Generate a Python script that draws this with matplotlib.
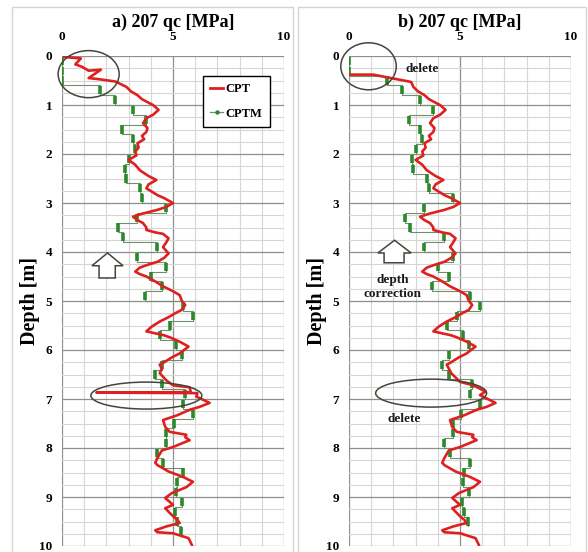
import matplotlib
matplotlib.use("Agg")
import matplotlib.pyplot as plt
from matplotlib.patches import Ellipse, Polygon, Rectangle
from matplotlib.lines import Line2D
import numpy as np

# ---------------- data ----------------
# CPT (continuous) panel a: qc [MPa], depth [m]
cpt_qc_a = [0.1, 0.85, 0.6, 0.9, 1.2, 1.75, 1.2, 1.6, 2.4, 2.9, 3.1, 3.4, 3.6, 3.8, 4.1, 4.35,
            4.1, 3.8, 3.65, 3.85, 3.8, 3.6, 3.7, 3.4, 3.45, 3.3, 3.35, 3.0, 3.3, 3.5, 3.9, 4.25,
            3.9, 3.8, 4.3, 4.6, 5.0, 4.7, 4.3, 3.6, 3.2, 3.4, 3.65, 3.8, 3.8, 4.2, 4.55, 4.8,
            4.7, 4.55, 4.8, 4.6, 4.3, 3.8, 3.5, 3.3, 3.5, 3.8, 4.2, 4.55, 5.0, 5.3, 5.4, 5.55,
            5.4, 5.1, 4.8, 4.4, 4.05, 3.8, 4.2, 4.6, 4.85, 5.3, 5.7, 5.3, 4.95, 4.6, 4.4, 4.5,
            4.4, 4.7, 5.0, 5.75, 5.8, 1.55, 6.1, 6.05, 6.65, 6.2, 5.75, 5.2, 4.55, 4.6, 4.65,
            4.85, 5.6, 5.55, 5.75, 5.0, 4.5, 4.3, 4.2, 4.3, 4.8, 5.45, 5.9, 5.6, 4.95, 4.65,
            5.0, 4.65, 4.95, 5.2, 5.3, 4.7, 4.2, 4.3, 5.0, 5.7, 5.85]
cpt_depth_a = [0.02, 0.05, 0.17, 0.22, 0.3, 0.28, 0.45, 0.47, 0.52, 0.63, 0.72, 0.8, 0.88, 0.93,
               1.0, 1.1, 1.2, 1.27, 1.37, 1.47, 1.55, 1.63, 1.7, 1.78, 1.87, 1.95, 2.03, 2.12,
               2.22, 2.33, 2.45, 2.53, 2.62, 2.7, 2.84, 2.9, 3.0, 3.08, 3.14, 3.22, 3.28, 3.35,
               3.41, 3.5, 3.55, 3.6, 3.63, 3.72, 3.8, 3.9, 4.03, 4.12, 4.2, 4.27, 4.32, 4.4,
               4.45, 4.5, 4.6, 4.7, 4.8, 4.88, 5.0, 5.08, 5.18, 5.25, 5.33, 5.42, 5.52, 5.62,
               5.66, 5.7, 5.74, 5.83, 5.93, 6.07, 6.15, 6.25, 6.3, 6.38, 6.47, 6.62, 6.72,
               6.76, 6.86, 6.87, 6.88, 6.95, 7.08, 7.16, 7.22, 7.33, 7.43, 7.5, 7.57, 7.67,
               7.73, 7.78, 7.84, 7.98, 8.05, 8.2, 8.3, 8.35, 8.48, 8.59, 8.69, 8.8, 8.92, 9.02,
               9.16, 9.23, 9.37, 9.47, 9.53, 9.6, 9.68, 9.72, 9.74, 9.84, 9.98]

# CPT panel b (top part deleted, spike near 7 m deleted)
cpt_qc_b = [0.0, 1.1, 1.65, 2.35, 2.8, 2.9, 3.1, 3.4, 3.6, 3.8, 4.1, 4.35,
            4.1, 3.8, 3.65, 3.85, 3.8, 3.6, 3.7, 3.4, 3.45, 3.3, 3.35, 3.0, 3.3, 3.5, 3.9, 4.25,
            3.9, 3.8, 4.3, 4.6, 5.0, 4.7, 4.3, 3.6, 3.2, 3.4, 3.65, 3.8, 3.8, 4.2, 4.55, 4.8,
            4.7, 4.55, 4.8, 4.6, 4.3, 3.8, 3.5, 3.3, 3.5, 3.8, 4.2, 4.55, 5.0, 5.3, 5.4, 5.55,
            5.4, 5.1, 4.8, 4.4, 4.05, 3.8, 4.2, 4.6, 4.85, 5.3, 5.7, 5.3, 4.95, 4.6, 4.4, 4.5,
            4.6, 5.0, 5.6, 6.15, 5.9, 6.6, 6.2, 5.75, 5.2, 4.55, 4.6, 4.65,
            4.85, 5.6, 5.55, 5.75, 5.0, 4.5, 4.3, 4.2, 4.3, 4.8, 5.45, 5.9, 5.6, 4.95, 4.65,
            5.0, 4.65, 4.95, 5.2, 5.3, 4.7, 4.2, 4.3, 5.0, 5.7, 5.85]
cpt_depth_b = [0.38, 0.38, 0.43, 0.49, 0.53, 0.63, 0.72, 0.8, 0.88, 0.93, 1.0, 1.1,
               1.2, 1.27, 1.37, 1.47, 1.55, 1.63, 1.7, 1.78, 1.87, 1.95, 2.03, 2.12,
               2.22, 2.33, 2.45, 2.53, 2.62, 2.7, 2.84, 2.9, 3.0, 3.08, 3.14, 3.22, 3.28, 3.35,
               3.41, 3.5, 3.55, 3.6, 3.63, 3.72, 3.8, 3.9, 4.03, 4.12, 4.2, 4.27, 4.32, 4.4,
               4.45, 4.5, 4.6, 4.7, 4.8, 4.88, 5.0, 5.08, 5.18, 5.25, 5.33, 5.42, 5.52, 5.62,
               5.66, 5.7, 5.74, 5.83, 5.93, 6.07, 6.15, 6.25, 6.3, 6.38, 6.47,
               6.65, 6.72, 6.85, 6.92, 7.08, 7.16, 7.22, 7.33, 7.43, 7.5, 7.57, 7.67,
               7.73, 7.78, 7.84, 7.98, 8.05, 8.2, 8.3, 8.35, 8.48, 8.59, 8.69, 8.8, 8.92, 9.02,
               9.16, 9.23, 9.37, 9.47, 9.53, 9.6, 9.68, 9.72, 9.74, 9.84, 9.98]

# CPTM (stepwise) readings: top depth of each 0.2 m interval and qc
cptm_top_a = [0.0, 0.2, 0.4, 0.6, 0.8, 1.0, 1.2, 1.4, 1.6, 1.8, 2.0, 2.2, 2.4, 2.6, 2.8,
              3.0, 3.2, 3.4, 3.6, 3.8, 4.0, 4.2, 4.4, 4.6, 4.8, 5.0, 5.2, 5.4, 5.6, 5.8,
              6.0, 6.2, 6.4, 6.6, 6.8, 7.0, 7.2, 7.4, 7.6, 7.8, 8.0, 8.2, 8.4, 8.6, 8.8,
              9.0, 9.2, 9.4, 9.6]
cptm_qc_a = [0.0, 0.0, 0.0, 1.7, 2.4, 3.2, 3.8, 2.7, 3.2, 3.3, 3.0, 2.85, 2.9, 3.5, 3.6,
             4.7, 3.4, 2.5, 2.75, 4.3, 3.4, 4.7, 4.0, 4.5, 3.75, 5.45, 5.9, 4.85, 4.4, 5.15,
             5.4, 4.5, 4.2, 4.5, 5.55, 5.45, 5.9, 5.05, 4.7, 4.7, 4.3, 4.55, 5.45, 5.2, 5.15,
             5.4, 5.1, 5.2, 5.35]
cptm_top_b = [0.0, 0.2, 0.4, 0.6, 0.8, 1.0, 1.2, 1.4, 1.6, 1.8, 2.0, 2.2, 2.4, 2.6, 2.8,
              3.0, 3.2, 3.4, 3.6, 3.8, 4.0, 4.2, 4.4, 4.6, 4.8, 5.0, 5.2, 5.4, 5.6, 5.8,
              6.0, 6.2, 6.4, 6.6, 6.8, 7.0, 7.2, 7.4, 7.6, 7.8, 8.0, 8.2, 8.4, 8.6, 8.8,
              9.0, 9.2, 9.4]
cptm_qc_b = [0.0, 0.0, 1.7, 2.4, 3.2, 3.8, 2.7, 3.2, 3.3, 3.0, 2.85, 2.9, 3.5, 3.6,
             4.7, 3.4, 2.5, 2.75, 4.3, 3.4, 4.7, 4.0, 4.5, 3.75, 5.45, 5.9, 4.85, 4.4, 5.15,
             5.4, 4.5, 4.2, 4.5, 5.55, 5.45, 5.9, 5.05, 4.7, 4.7, 4.3, 4.55, 5.45, 5.2, 5.15,
             5.4, 5.1, 5.2, 5.35]
cptm_step = 0.2

titles = ["a) 207 qc [MPa]", "b) 207 qc [MPa]"]
x_ticks = [0, 5, 10]
y_ticks = [0, 1, 2, 3, 4, 5, 6, 7, 8, 9, 10]
series_names = ["CPT", "CPTM"]

# ---------------- style ----------------
SERIF = ["Liberation Serif", "DejaVu Serif"]
RED = "#de2020"
GREEN = "#2a8a2a"
THIN = "#6f8f6f"
SHAPE = "#45453a"

fig = plt.figure(figsize=(5.88, 5.52), dpi=100)
W, H = 588.0, 552.0

# panel frames
for x0, x1 in [(12, 293), (298, 586)]:
    fig.patches.append(Rectangle((x0 / W, -0.01), (x1 - x0) / W, (H - 7) / H + 0.01,
                                 transform=fig.transFigure, fill=False,
                                 edgecolor="#d4d4d4", lw=1.0))

axes_left = [62, 349]
axes = []
for k in range(2):
    ax = fig.add_axes([axes_left[k] / W, (H - 546) / H, 222 / W, 490 / H])
    axes.append(ax)
    ax.set_xlim(0, 10)
    ax.set_ylim(10, 0)
    ax.xaxis.tick_top()
    ax.set_xticks(x_ticks)
    ax.set_xticks(np.arange(0, 11, 1), minor=True)
    ax.set_yticks(y_ticks)
    ax.set_yticks(np.arange(0, 10.01, 0.25), minor=True)
    ax.tick_params(which="both", length=0)
    ax.tick_params(axis="x", pad=9)
    ax.tick_params(axis="y", pad=7)
    for lab in ax.get_xticklabels() + ax.get_yticklabels():
        lab.set_fontfamily(SERIF)
        lab.set_fontweight("bold")
        lab.set_fontsize(9.5)
    ax.grid(which="minor", color="#d6d6d6", lw=0.8)
    ax.grid(which="major", color="#8e8e8e", lw=0.9)
    ax.set_axisbelow(True)
    for s in ax.spines.values():
        s.set_visible(False)
    ax.text(0.5, 1.0 + 25 / 490, titles[k], transform=ax.transAxes, ha="center", va="bottom",
            fontfamily=SERIF, fontweight="bold", fontsize=13)
    ax.set_ylabel("Depth [m]", fontfamily=SERIF, fontweight="bold", fontsize=14.5, labelpad=-1)


def draw_cptm(ax, tops, vals):
    xs, ys = [], []
    for t, v in zip(tops, vals):
        xs += [v, v]
        ys += [t, t + cptm_step]
    ax.plot(xs, ys, color=THIN, lw=0.8, zorder=3)
    ax.vlines(vals, [t + 0.015 for t in tops], [t + cptm_step - 0.015 for t in tops],
              color=GREEN, lw=2.6, zorder=4)


for ax, (cq, cd, mt, mq) in zip(axes, [(cpt_qc_a, cpt_depth_a, cptm_top_a, cptm_qc_a),
                                        (cpt_qc_b, cpt_depth_b, cptm_top_b, cptm_qc_b)]):
    draw_cptm(ax, mt, mq)
    ax.plot(cq, cd, color=RED, lw=1.9, zorder=5, solid_joinstyle="round")

axa, axb = axes

# legend (panel a)
handles = [Line2D([], [], color=RED, lw=2.0),
           Line2D([], [], color=THIN, lw=0.9, marker="o", markersize=2.2,
                  markerfacecolor=GREEN, markeredgecolor=GREEN)]
leg = axa.legend(handles, series_names, loc="upper left", bbox_to_anchor=(0.635, 0.96),
                 prop={"family": SERIF, "weight": "bold", "size": 9},
                 frameon=True, fancybox=False, edgecolor="black", framealpha=1,
                 handlelength=1.0, handletextpad=0.2, labelspacing=1.0,
                 borderpad=0.6, borderaxespad=0)
leg.get_frame().set_linewidth(1.0)
leg.set_zorder(10)


def up_arrow(ax, tip_x, tip_y, head_y, bottom, head_l, head_r, shaft_l, shaft_r):
    pts = [(shaft_l, bottom), (shaft_l, head_y), (head_l, head_y), (tip_x, tip_y),
           (head_r, head_y), (shaft_r, head_y), (shaft_r, bottom)]
    ax.add_patch(Polygon(pts, closed=True, facecolor="white", edgecolor=SHAPE, lw=1.1, zorder=6))


def ring(ax, cx, cy, w, h):
    ax.add_patch(Ellipse((cx, cy), w, h, fill=False, edgecolor=SHAPE, lw=1.1, zorder=7,
                         clip_on=False))


# panel a annotations
ring(axa, 1.2, 0.37, 2.75, 0.96)
ring(axa, 3.8, 6.93, 5.0, 0.55)
up_arrow(axa, 2.05, 4.02, 4.28, 4.53, 1.35, 2.75, 1.67, 2.4)

# panel b annotations
ring(axb, 0.88, 0.21, 2.5, 0.96)
ring(axb, 3.7, 6.88, 5.0, 0.57)
up_arrow(axb, 2.05, 3.76, 4.02, 4.22, 1.3, 2.8, 1.58, 2.48)
txt = dict(fontfamily=SERIF, fontweight="bold", fontsize=9.5, color="#1a1a1a", zorder=8)
axb.text(3.3, 0.27, "delete", ha="center", va="center", **txt)
axb.text(1.95, 4.72, "depth\ncorrection", ha="center", va="center", linespacing=1.25, **txt)
axb.text(2.5, 7.4, "delete", ha="center", va="center", **txt)

fig.savefig("out.png", dpi=100)
